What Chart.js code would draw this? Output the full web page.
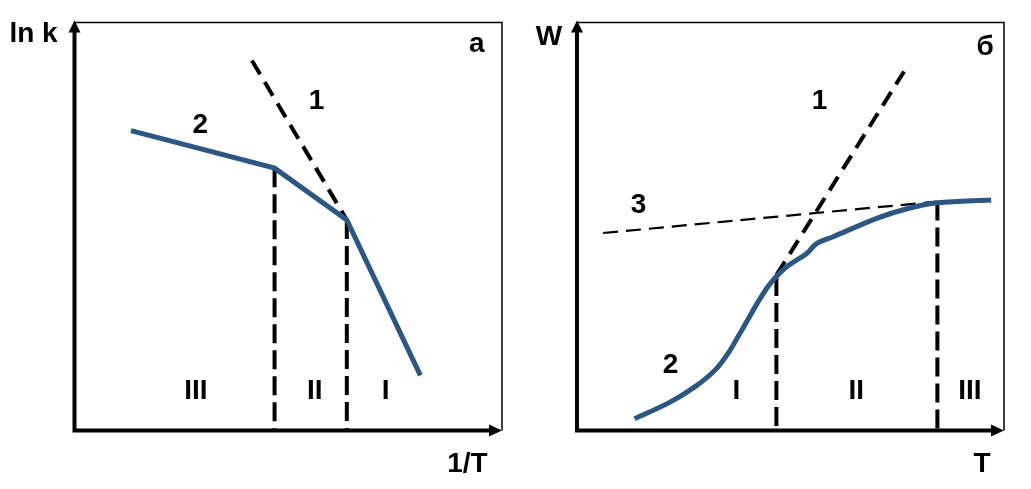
<!DOCTYPE html>
<html>
<head>
<meta charset="utf-8">
<script src="https://cdn.jsdelivr.net/npm/chart.js@4"></script>
<style>
  html, body { margin: 0; padding: 0; background: #fff; }
  #wrap { position: relative; width: 1031px; height: 489px; }
  canvas { position: absolute; top: 0; }
  #chart-a { left: 0; }
  #chart-b { left: 515px; }
</style>
</head>
<body>
<div id="wrap">
  <canvas id="chart-a" width="515" height="489"></canvas>
  <canvas id="chart-b" width="516" height="489"></canvas>
</div>
<script>
// panel "а": ln k against 1/T (axes run 0..100)
const aCurveX = [13.2, 46.8, 63.7, 80.9];
const aCurveY = [73.5, 64.3, 51.6, 13.5];
const aLine1X = [41.5, 63.7];
const aLine1Y = [90.7, 51.6];
const aBoundX = [46.8, 63.7];
const aBoundTop = [64.3, 51.6];
const aLabels = ["2", "1", "III", "II", "I", "а"];
const aLabelX = [29.4, 56.6, 28.4, 56.2, 72.8, 94.1];
const aLabelY = [75.5, 81.3, 10.3, 10.3, 10.3, 95.3];

// panel "б": W against T
const bCurveX = [13.5, 21.7, 28.0, 32.6, 35.8, 38.1, 44.4, 48.6, 53.8, 56.1, 60.0, 70.2, 77.5, 84.5, 97.0];
const bCurveY = [2.9, 6.9, 11.0, 15.1, 19.6, 23.7, 34.8, 39.7, 43.4, 45.8, 47.5, 52.0, 54.4, 55.8, 56.5];
const bLine1X = [46.7, 76.6];
const bLine1Y = [38.1, 88.0];
const bLine3X = [6.1, 84.4];
const bLine3Y = [48.4, 56.1];
const bBoundX = [46.7, 84.4];
const bBoundTop = [37.6, 56.1];
const bLabels = ["1", "3", "2", "I", "II", "III", "б"];
const bLabelX = [56.8, 14.4, 21.9, 37.3, 65.4, 92.0, 95.6];
const bLabelY = [81.3, 55.8, 16.6, 10.3, 10.3, 10.3, 94.5];

const BLUE = "#2c5684";
const FONT_SIZE = 28;
const FONT = 'bold ' + FONT_SIZE + 'px "Liberation Sans", Arial, sans-serif';

function pts(xs, ys) {
  return xs.map((x, i) => ({ x: x, y: ys[i] }));
}

function boundLines(xs, tops) {
  return xs.map((x, i) => ({
    data: [{ x: x, y: tops[i] }, { x: x, y: 0 }],
    borderColor: "#000",
    borderWidth: 4,
    borderDash: [19, 7],
    pointRadius: 0,
    showLine: true
  }));
}

function drawText(ctx, text, x, y) {
  ctx.save();
  ctx.font = FONT;
  ctx.fillStyle = "#000";
  ctx.textAlign = "center";
  ctx.textBaseline = "alphabetic";
  ctx.fillText(text, x, y + FONT_SIZE * 0.36);
  ctx.restore();
}

const framePlugin = {
  id: "frame",
  beforeDatasetsDraw(chart) {
    const { ctx, chartArea: a } = chart;
    ctx.save();
    ctx.strokeStyle = "#000";
    ctx.lineWidth = 1.5;
    ctx.beginPath();
    ctx.moveTo(a.left, a.top);
    ctx.lineTo(a.right, a.top);
    ctx.lineTo(a.right, a.bottom);
    ctx.stroke();
    ctx.restore();
  },
  afterDatasetsDraw(chart, args, opts) {
    const { ctx, chartArea: a, scales } = chart;
    ctx.save();
    ctx.strokeStyle = "#000";
    ctx.fillStyle = "#000";
    ctx.lineWidth = 4;
    ctx.beginPath();
    ctx.moveTo(a.left, a.top + 8);
    ctx.lineTo(a.left, a.bottom);
    ctx.lineTo(a.right - 12, a.bottom);
    ctx.stroke();
    // arrow heads
    ctx.beginPath();
    ctx.moveTo(a.left, a.top - 2);
    ctx.lineTo(a.left - 6, a.top + 10);
    ctx.lineTo(a.left + 6, a.top + 10);
    ctx.closePath();
    ctx.fill();
    ctx.beginPath();
    ctx.moveTo(a.right, a.bottom);
    ctx.lineTo(a.right - 13, a.bottom - 6);
    ctx.lineTo(a.right - 13, a.bottom + 6);
    ctx.closePath();
    ctx.fill();
    ctx.restore();

    opts.labels.forEach((t, i) => {
      drawText(ctx, t, scales.x.getPixelForValue(opts.xs[i]), scales.y.getPixelForValue(opts.ys[i]));
    });
    opts.titles.forEach(t => drawText(ctx, t.text, a.left + t.dx, t.y));
  }
};

function makeChart(id, datasets, padding, frameOpts) {
  const ctx = document.getElementById(id).getContext("2d");
  return new Chart(ctx, {
    type: "scatter",
    data: { datasets: datasets },
    options: {
      responsive: false,
      animation: false,
      layout: { padding: padding },
      scales: {
        x: { type: "linear", min: 0, max: 100, display: false },
        y: { type: "linear", min: 0, max: 100, display: false }
      },
      plugins: {
        legend: { display: false },
        tooltip: { enabled: false },
        frame: frameOpts
      }
    },
    plugins: [framePlugin]
  });
}

makeChart("chart-a", [
  {
    data: pts(aCurveX, aCurveY),
    borderColor: BLUE,
    borderWidth: 5,
    pointRadius: 0,
    showLine: true,
    tension: 0
  },
  {
    data: pts(aLine1X, aLine1Y),
    borderColor: "#000",
    borderWidth: 4,
    borderDash: [16, 9],
    pointRadius: 0,
    showLine: true
  },
  ...boundLines(aBoundX, aBoundTop)
], { left: 74.5, right: 13, top: 22.5, bottom: 58.5 }, {
  labels: aLabels, xs: aLabelX, ys: aLabelY,
  titles: [{ text: "ln k", dx: -41, y: 32 }, { text: "1/T", dx: 393, y: 462 }]
});

makeChart("chart-b", [
  {
    data: pts(bCurveX, bCurveY),
    borderColor: BLUE,
    borderWidth: 5,
    pointRadius: 0,
    showLine: true,
    tension: 0.35
  },
  {
    data: pts(bLine1X, bLine1Y),
    borderColor: "#000",
    borderWidth: 4,
    borderDash: [16, 9],
    pointRadius: 0,
    showLine: true
  },
  {
    data: pts(bLine3X, bLine3Y),
    borderColor: "#000",
    borderWidth: 2.2,
    borderDash: [15, 8],
    pointRadius: 0,
    showLine: true
  },
  ...boundLines(bBoundX, bBoundTop)
], { left: 62, right: 27, top: 22.5, bottom: 58.5 }, {
  labels: bLabels, xs: bLabelX, ys: bLabelY,
  titles: [{ text: "W", dx: -28, y: 35 }, { text: "T", dx: 405, y: 462 }]
});
</script>
</body>
</html>
